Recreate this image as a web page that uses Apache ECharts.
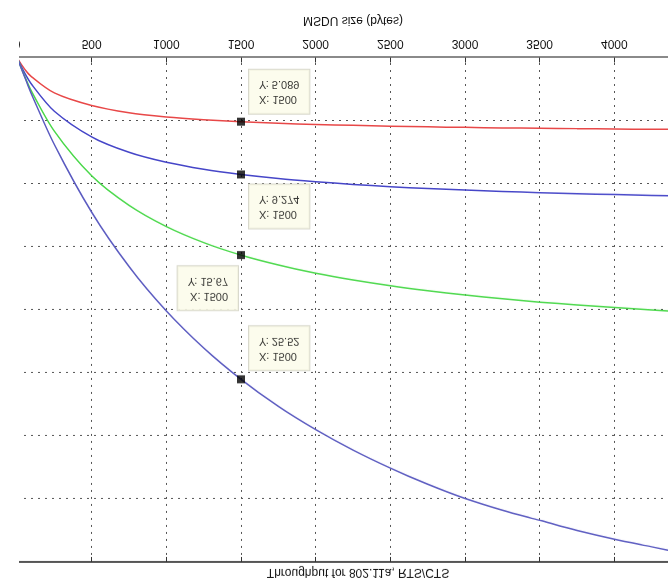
<!DOCTYPE html>
<html>
<head>
<meta charset="utf-8">
<script src="https://cdn.jsdelivr.net/npm/echarts@6/dist/echarts.min.js"></script>
<style>
  html, body { margin: 0; padding: 0; background: #fff; overflow: hidden; }
  #wrap { position: relative; width: 668px; height: 586px; overflow: hidden; }
  /* the reference picture is upside down, so the whole chart is flipped */
  #chart { position: absolute; left: 0; top: 0; width: 700px; height: 586px; transform: scaleY(-1); }
  #mask { position: absolute; left: 0; top: 0; width: 19px; height: 586px; background: #fff; }
</style>
</head>
<body>
<div id="wrap"><div id="chart"></div><div id="mask"></div></div>
<script>
// MSDU size (bytes)
const msduSize = [0, 50, 100, 250, 500, 750, 1000, 1250, 1500, 1750, 2000, 2250, 2500, 2750, 3000, 3250, 3500, 3750, 4000, 4250, 4500];
// throughput values
const redLine = [0, 0.9, 1.55, 2.8, 3.8, 4.38, 4.71, 4.93, 5.089, 5.21, 5.31, 5.38, 5.45, 5.5, 5.54, 5.58, 5.61, 5.64, 5.67, 5.69, 5.71];
const blueLine = [0, 1.2, 2.16, 4.26, 6.3, 7.51, 8.3, 8.86, 9.274, 9.6, 9.85, 10.06, 10.24, 10.39, 10.51, 10.62, 10.72, 10.8, 10.87, 10.94, 11.0];
const greenLine = [0, 1.45, 2.74, 5.84, 9.37, 11.72, 13.41, 14.68, 15.67, 16.45, 17.1, 17.64, 18.1, 18.49, 18.83, 19.13, 19.4, 19.62, 19.83, 20.02, 20.18];
const blue2Line = [0, 1.5, 2.98, 6.9, 12.27, 16.57, 20.09, 23.03, 25.52, 27.66, 29.5, 31.13, 32.56, 33.83, 34.96, 35.9, 36.7, 37.5, 38.2, 38.8, 39.4];
// data tips
const tipX = 1500;
const tipY = [5.089, 9.274, 15.67, 25.52];

const font = "'Liberation Sans', Arial, sans-serif";
const chart = echarts.init(document.getElementById("chart"));

function pairs(ys) {
  return msduSize.map((x, i) => [x, ys[i]]);
}

const tipPos = [
  { position: [12, 12], align: "left", verticalAlign: "top" },
  { position: [12, -6], align: "left", verticalAlign: "bottom" },
  { position: [1, -7], align: "right", verticalAlign: "bottom" },
  { position: [12, 13], align: "left", verticalAlign: "top" },
];

const gridLine = { show: true, lineStyle: { color: "#555", type: [2, 5], width: 1 } };

const option = {
  animation: false,
  title: {
    text: "Throughput for 802.11a, RTS/CTS",
    left: 353,
    top: 3,
    textAlign: "center",
    textStyle: { fontFamily: font, fontSize: 12, fontWeight: "normal", color: "#111" },
  },
  grid: { left: 17, right: 11, top: 24, bottom: 57.5 },
  xAxis: [
    {
      type: "value",
      position: "bottom",
      min: 0,
      max: 4500,
      interval: 500,
      name: "MSDU size (bytes)",
      nameLocation: "middle",
      nameGap: 31,
      nameTextStyle: { fontFamily: font, fontSize: 12, color: "#111" },
      axisLine: { show: true, lineStyle: { color: "#8a8a8a", width: 2 } },
      axisTick: { show: true, inside: true, length: 5, lineStyle: { color: "#333" } },
      axisLabel: {
        margin: 8, fontFamily: font, fontSize: 12, color: "#111",
        showMaxLabel: false,
        formatter: (v) => String(v),
      },
      splitLine: gridLine,
    },
    {
      type: "value",
      position: "top",
      min: 0,
      max: 4500,
      interval: 500,
      axisLine: { show: true, lineStyle: { color: "#555", width: 2 } },
      axisTick: { show: true, inside: true, length: 5, lineStyle: { color: "#333" } },
      axisLabel: { show: false },
      splitLine: { show: false },
    },
  ],
  yAxis: {
    type: "value",
    min: 0,
    max: 40,
    interval: 5,
    axisLine: { show: false },
    axisTick: { show: false },
    axisLabel: { show: false },
    splitLine: gridLine,
  },
  series: [
    { name: "red", type: "line", data: pairs(redLine), showSymbol: false, smooth: 0.3, lineStyle: { color: "#e84848", width: 1.5 } },
    { name: "blue", type: "line", data: pairs(blueLine), showSymbol: false, smooth: 0.3, lineStyle: { color: "#4646c8", width: 1.5 } },
    { name: "green", type: "line", data: pairs(greenLine), showSymbol: false, smooth: 0.3, lineStyle: { color: "#4ad84a", width: 1.5 } },
    { name: "blue2", type: "line", data: pairs(blue2Line), showSymbol: false, smooth: 0.3, lineStyle: { color: "#5a5ac0", width: 1.5 } },
    {
      name: "tips",
      type: "scatter",
      z: 5,
      symbol: "rect",
      symbolSize: 8,
      itemStyle: { color: "#000" },
      data: tipY.map((y, i) => ({
        value: [tipX, y],
        label: Object.assign({
          show: true,
          formatter: "X: " + tipX + "\nY: " + y,
          fontFamily: font,
          fontSize: 11,
          lineHeight: 15,
          color: "#000",
          backgroundColor: "#fbfbe8",
          borderColor: "#cfcfc0",
          borderWidth: 1,
          padding: [7, 10],
        }, tipPos[i]),
      })),
    },
  ],
};
chart.setOption(option);
</script>
</body>
</html>
